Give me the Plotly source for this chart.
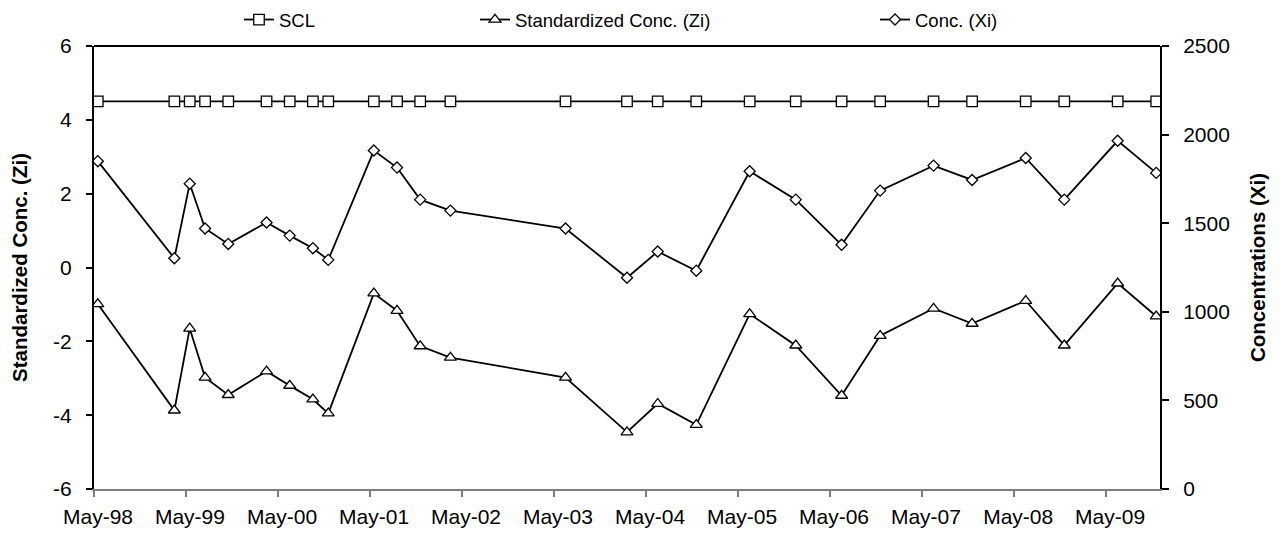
import plotly.graph_objects as go

dates = ["1998-05-16", "1999-03-16", "1999-05-16", "1999-07-16", "1999-10-16",
         "2000-03-16", "2000-06-16", "2000-09-16", "2000-11-16", "2001-05-16",
         "2001-08-16", "2001-11-16", "2002-03-16", "2003-06-16", "2004-02-15",
         "2004-06-16", "2004-11-16", "2005-06-16", "2005-12-16", "2006-06-16",
         "2006-11-16", "2007-06-16", "2007-11-16", "2008-06-16", "2008-11-16",
         "2009-06-16", "2009-11-16"]
conc_xi = [1850, 1302, 1723, 1470, 1383, 1504, 1430, 1359, 1293, 1910,
           1814, 1633, 1571, 1470, 1192, 1340, 1232, 1793, 1633, 1378,
           1684, 1825, 1744, 1868, 1633, 1965, 1784]
std_zi = [-0.99, -3.87, -1.65, -2.98, -3.45, -2.81, -3.20, -3.57, -3.95, -0.70,
          -1.17, -2.13, -2.44, -2.98, -4.46, -3.69, -4.26, -1.26, -2.11, -3.47,
          -1.85, -1.11, -1.52, -0.90, -2.11, -0.43, -1.32]
scl = [4.5] * len(dates)

zi_ticks = [-6, -4, -2, 0, 2, 4, 6]
zi_ticktext = ["-6", "-4", "-2", "0", "2", "4", "6"]
xi_ticks = [0, 500, 1000, 1500, 2000, 2500]

FONT = "Liberation Sans, Arial, sans-serif"
fig = go.Figure()

fig.add_trace(go.Scatter(
    x=dates, y=scl, name="SCL", mode="lines+markers", legend="legend",
    line=dict(color="black", width=1.8),
    marker=dict(symbol="square", size=10.5, color="white", line=dict(color="black", width=1.3)),
))
fig.add_trace(go.Scatter(
    x=dates, y=std_zi, name="Standardized Conc. (Zi)", mode="lines+markers", legend="legend2",
    line=dict(color="black", width=1.8),
    marker=dict(symbol="triangle-up", size=10.5, color="white", line=dict(color="black", width=1.3)),
))
fig.add_trace(go.Scatter(
    x=dates, y=conc_xi, name="Conc. (Xi)", mode="lines+markers", yaxis="y2", legend="legend3",
    line=dict(color="black", width=1.8),
    marker=dict(symbol="diamond", size=8.5, color="white", line=dict(color="black", width=1.3)),
))

# the page body has an 8px margin, so the figure is sized to fit the 1280x533 window
W, H = 1272, 525
L, R, T, B = 86, 120, 38, 44
pw = W - L - R

def lx(px_window):
    return (px_window - 8 - L) / pw

legend_common = dict(orientation="h", yanchor="middle", yref="container", y=1 - 12 / H,
                     xanchor="left", font=dict(family=FONT, size=18.5, color="black"),
                     bgcolor="rgba(0,0,0,0)", itemwidth=30, tracegroupgap=0)
fig.update_layout(
    width=W, height=H,
    margin=dict(l=L, r=R, t=T, b=B, autoexpand=False),
    paper_bgcolor="white", plot_bgcolor="white",
    font=dict(family=FONT, size=21, color="black"),
    showlegend=True,
    legend=dict(x=lx(239), **legend_common),
    legend2=dict(x=lx(475), **legend_common),
    legend3=dict(x=lx(875), **legend_common),
    xaxis=dict(
        type="date", range=["1998-05-01", "2009-12-01"],
        tick0="1998-05-01", dtick="M12", tickformat="%b-%y",
        showgrid=False, zeroline=False,
        showline=True, linecolor="#808080", linewidth=1.5,
        ticks="outside", ticklen=6, tickcolor="#808080", tickwidth=1.5,
        tickfont=dict(family=FONT, size=21, color="black"),
        ticklabelshift=4, ticklabelstandoff=2,
        automargin=False,
    ),
    yaxis=dict(
        range=[-6, 6], tickvals=zi_ticks, ticktext=zi_ticktext,
        showgrid=False, zeroline=False,
        showline=True, linecolor="black", linewidth=2,
        ticks="outside", ticklen=6, tickcolor="black", tickwidth=1.5,
        tickfont=dict(family=FONT, size=21, color="black"),
        ticklabelstandoff=10,
        title=dict(text="<b>Standardized Conc. (Zi)</b>", font=dict(family=FONT, size=20.5, color="black"), standoff=22),
        automargin=False,
    ),
    yaxis2=dict(
        range=[0, 2500], tickvals=xi_ticks, overlaying="y", side="right",
        showgrid=False, zeroline=False,
        showline=True, linecolor="black", linewidth=2,
        ticks="outside", ticklen=7, tickcolor="black", tickwidth=1.5,
        tickfont=dict(family=FONT, size=21, color="black"),
        ticklabelstandoff=10,
        title=dict(text="<b>Concentrations (Xi)</b>", font=dict(family=FONT, size=20.5, color="black"), standoff=22),
        automargin=False,
    ),
    yaxis3=dict(
        range=[0, 2500], tickvals=xi_ticks, overlaying="y", side="right",
        showgrid=False, zeroline=False, showline=False, showticklabels=False,
        ticks="inside", ticklen=7, tickcolor="black", tickwidth=1.5,
    ),
    shapes=[dict(type="line", xref="paper", yref="paper", x0=0, x1=1, y0=1, y1=1,
                 line=dict(color="black", width=2))],
)

fig.write_html("out.html")
